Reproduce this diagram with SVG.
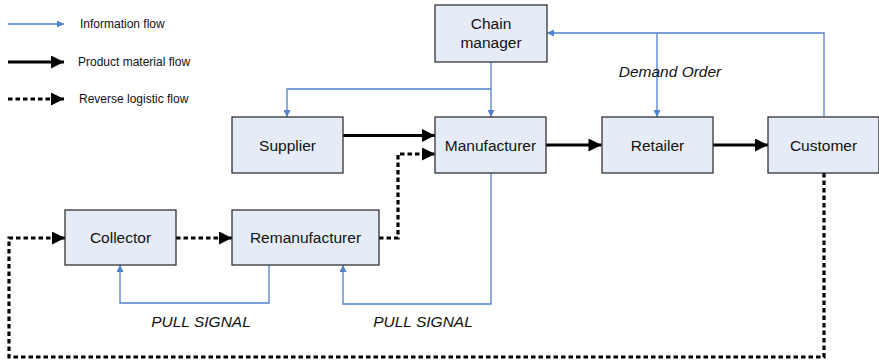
<svg xmlns="http://www.w3.org/2000/svg" width="879" height="362" viewBox="0 0 879 362">
<style>
.node{fill:#E6ECF7;stroke:#333;stroke-width:1.3}
.t{font-family:"Liberation Sans",Arial,sans-serif;font-size:15.5px;fill:#111;text-anchor:middle}
.lg{font-family:"Liberation Sans",Arial,sans-serif;font-size:12px;fill:#111}
.it{font-family:"Liberation Sans",Arial,sans-serif;font-size:15.5px;font-style:italic;fill:#111;text-anchor:middle}
.info{fill:none;stroke:#4F80CC;stroke-width:1.3;marker-end:url(#ai)}
.infon{fill:none;stroke:#4F80CC;stroke-width:1.3}
.prod{fill:none;stroke:#000;stroke-width:3;marker-end:url(#ap)}
.rev{fill:none;stroke:#000;stroke-width:3.2;stroke-dasharray:4.5,3;marker-end:url(#ap)}
</style>
<defs>
<marker id="ai" viewBox="0 0 10 10" refX="10" refY="5" markerWidth="8" markerHeight="7" markerUnits="userSpaceOnUse" orient="auto">
<path d="M0,0 L10,5 L0,10 Z" fill="#4F80CC"/>
</marker>
<marker id="ap" viewBox="0 0 10 10" refX="10" refY="5" markerWidth="17" markerHeight="13" markerUnits="userSpaceOnUse" orient="auto">
<path d="M0,0 L10,5 L0,10 Z" fill="#000"/>
</marker>
</defs>
<g id="legend">
<line x1="8" y1="24" x2="64" y2="24" class="info"/>
<text x="80" y="28" class="lg">Information flow</text>
<line x1="8" y1="62" x2="64" y2="62" class="prod"/>
<text x="78" y="66" class="lg">Product material flow</text>
<line x1="8" y1="99" x2="64" y2="99" class="rev"/>
<text x="79" y="103" class="lg">Reverse logistic flow</text>
</g>
<g id="connectors">
<path d="M491,62 V117" class="info"/>
<path d="M491,89 H287 V117" class="info"/>
<path d="M824,117 V33 H547" class="info"/>
<path d="M657,33 V117" class="info"/>
<path d="M491,173 V304 H343 V265" class="info"/>
<path d="M269,265 V303 H120 V265" class="info"/>
<path d="M343,135.5 H435" class="prod"/>
<path d="M546,145 H601.5" class="prod"/>
<path d="M713,145 H768" class="prod"/>
<path d="M379,238 H398 V154 H435" class="rev"/>
<path d="M176,238 H232" class="rev"/>
<path d="M824,173 V357 H9 V238 H65" class="rev"/>
<text x="670" y="77" class="it">Demand Order</text>
<text x="201" y="327" class="it">PULL SIGNAL</text>
<text x="423" y="327" class="it">PULL SIGNAL</text>
</g>
<g id="chain-manager"><rect x="435" y="5" width="112" height="57" class="node"/><text x="491" y="29" class="t">Chain</text><text x="491" y="48" class="t">manager</text></g>
<g id="supplier"><rect x="232" y="117" width="111" height="56" class="node"/><text x="287.5" y="150.5" class="t">Supplier</text></g>
<g id="manufacturer"><rect x="435" y="117" width="111" height="56" class="node"/><text x="490.5" y="150.5" class="t">Manufacturer</text></g>
<g id="retailer"><rect x="602" y="117" width="111" height="56" class="node"/><text x="657.5" y="150.5" class="t">Retailer</text></g>
<g id="customer"><rect x="768" y="117" width="111" height="56" class="node"/><text x="823.5" y="150.5" class="t">Customer</text></g>
<g id="collector"><rect x="65" y="210" width="111" height="55" class="node"/><text x="120.5" y="243" class="t">Collector</text></g>
<g id="remanufacturer"><rect x="232" y="210" width="147" height="55" class="node"/><text x="305.5" y="243" class="t">Remanufacturer</text></g>
</svg>
